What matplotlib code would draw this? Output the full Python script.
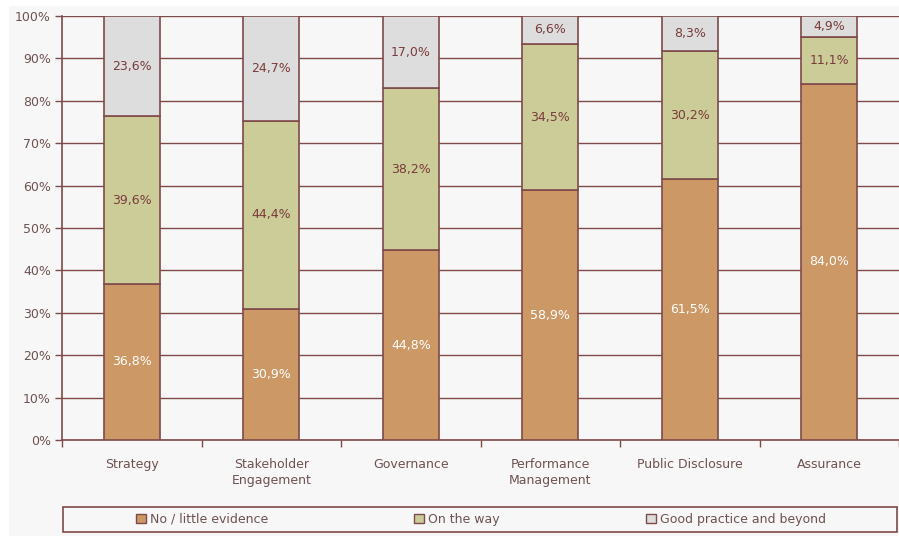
import numpy as np
import matplotlib.pyplot as plt
from matplotlib.patches import Patch, Rectangle
from matplotlib.ticker import FixedLocator, PercentFormatter

categories = ["Strategy", "Stakeholder\nEngagement", "Governance",
              "Performance\nManagement", "Public Disclosure", "Assurance"]
no_evidence = [36.8, 30.9, 44.8, 58.9, 61.5, 84.0]
on_the_way = [39.6, 44.4, 38.2, 34.5, 30.2, 11.1]
good_practice = [23.6, 24.7, 17.0, 6.6, 8.3, 4.9]
series_names = ["No / little evidence", "On the way", "Good practice and beyond"]

colors = ["#cc9966", "#cccc99", "#dddddd"]
edge = "#7f4a4a"
text_col = "#6e5252"
label_cols = ["white", "#7a3b3b", "#7a3b3b"]
fs = 9

plt.rcParams['font.family'] = ['DejaVu Sans']

fig = plt.figure(figsize=(8.99, 5.36), dpi=100, facecolor="white")
fig.patches.append(Rectangle((9 / 899, 0), 1, 1 - 6 / 536, transform=fig.transFigure,
                             facecolor="#f7f7f7", edgecolor="none", zorder=-10))
ax = fig.add_axes([62 / 899, 1 - 440 / 536, 1 - 62 / 899, (440 - 16) / 536])
ax.set_facecolor("#f7f7f7")

x = np.arange(len(categories))
bottom = np.zeros(len(categories))
for vals, name, c, lc in zip([no_evidence, on_the_way, good_practice], series_names, colors, label_cols):
    vals = np.array(vals)
    ax.bar(x, vals, 0.4, bottom=bottom, color=c, edgecolor=edge, linewidth=1.2, zorder=3)
    for xi, b, v in zip(x, bottom, vals):
        ax.text(xi, b + v / 2, f"{v:.1f}%".replace(".", ","), ha="center", va="center",
                color=lc, fontsize=fs, zorder=4)
    bottom += vals

ax.set_xlim(-0.5, len(categories) - 0.5)
ax.set_ylim(0, 100)
ax.set_yticks(np.arange(0, 101, 10))
ax.yaxis.set_major_formatter(PercentFormatter(decimals=0))
ax.grid(axis="y", color=edge, linewidth=1, zorder=1)
ax.set_xticks(x)
ax.set_xticklabels(categories, fontsize=fs, color=text_col, linespacing=1.3)
ax.xaxis.set_minor_locator(FixedLocator(np.arange(-0.5, len(categories), 1)))
ax.tick_params(axis="x", which="major", length=0, pad=13)
ax.tick_params(axis="x", which="minor", length=5, color=edge, width=1)
ax.tick_params(axis="y", length=5, color=edge, width=1, labelsize=fs, labelcolor=text_col, pad=3)
for s in ["top", "right"]:
    ax.spines[s].set_visible(False)
for s in ["left", "bottom"]:
    ax.spines[s].set_color(edge)
    ax.spines[s].set_linewidth(1.2)

# legend box along the bottom
fig.patches.append(Rectangle((63 / 899, 1 - 532 / 536), (897 - 63) / 899, 25 / 536,
                             transform=fig.transFigure, facecolor="#f7f7f7",
                             edgecolor=edge, linewidth=1.2))
handles = [Patch(facecolor=c, edgecolor=edge, linewidth=1) for c in colors]
fig.legend(handles, series_names, loc="center", bbox_to_anchor=(481 / 899, 1 - 519.5 / 536),
           ncol=3, frameon=False, fontsize=fs, handlelength=0.8, handleheight=0.8,
           handletextpad=0.3, columnspacing=11.7, labelcolor=text_col)

fig.savefig("out.png", dpi=100, facecolor=fig.get_facecolor())
